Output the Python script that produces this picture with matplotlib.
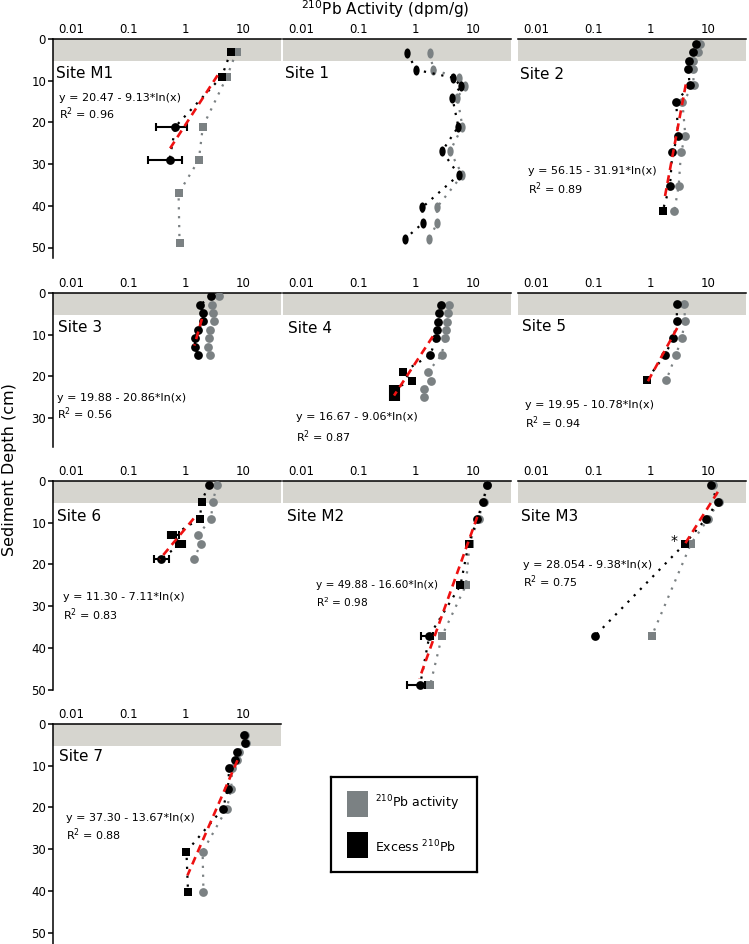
import numpy as np
import matplotlib
matplotlib.use("Agg")
import matplotlib.pyplot as plt
from matplotlib.path import Path
from matplotlib.transforms import Affine2D, blended_transform_factory
from matplotlib.ticker import NullLocator

nan = np.nan

# === data (depth in cm, activity in dpm/g) ===
# Site M1
m1_depth = [3, 9, 21, 29, 37, 49]
m1_total = [7.8, 5.3, 2.0, 1.7, 0.75, 0.78]
m1_excess = [6.2, 4.3, 0.66, 0.52, nan, nan]
m1_err_lo = [nan, nan, 0.30, 0.22, nan, nan]
m1_err_hi = [nan, nan, 1.05, 0.85, nan, nan]
m1_fit = (20.47, 9.13, 8.7, 26.4)   # a, b, fitted depth range
m1_eq = ["y = 20.47 - 9.13*ln(x)", "R$^2$ = 0.96"]

# Site 1 (no fit)
s1_depth = [3.4, 7.4, 9.3, 11.3, 14.1, 21.0, 26.9, 32.6, 40.4, 44.1, 48.0]
s1_total = [1.77, 2.05, 5.8, 7.2, 5.4, 6.6, 4.0, 6.6, 2.35, 2.4, 1.7]
s1_excess = [0.71, 1.03, 4.55, 6.2, 4.4, 5.6, 2.9, 5.7, 1.3, 1.35, 0.64]

# Site 2
s2_depth = [1.2, 3.2, 5.3, 7.2, 11.1, 15.2, 23.2, 27.2, 35.2, 41.2]
s2_total = [7.4, 6.7, 5.6, 5.5, 5.7, 3.6, 4.06, 3.4, 3.1, 2.6]
s2_excess = [6.3, 5.6, 4.7, 4.6, 4.8, 2.8, 3.05, 2.4, 2.18, 1.62]
s2_fit = (56.15, 31.91, 10.9, 38.6)
s2_eq = ["y = 56.15 - 31.91*ln(x)", "R$^2$ = 0.89"]

# Site 3
s3_depth = [0.8, 2.8, 4.8, 6.8, 8.8, 10.8, 12.9, 14.9]
s3_total = [3.8, 2.84, 3.0, 3.08, 2.7, 2.55, 2.5, 2.72]
s3_excess = [2.8, 1.8, 2.0, 2.02, 1.65, 1.48, 1.44, 1.67]
s3_fit = (19.88, 20.86, 6.2, 12.6)
s3_eq = ["y = 19.88 - 20.86*ln(x)", "R$^2$ = 0.56"]

# Site 4
s4_depth = [2.9, 4.9, 6.9, 8.9, 10.8, 14.9, 19.0, 21.0, 23.0, 25.0]
s4_total = [3.9, 3.67, 3.52, 3.38, 3.3, 2.84, 1.63, 1.89, 1.42, 1.42]
s4_excess = [2.8, 2.55, 2.47, 2.38, 2.28, 1.8, 0.59, 0.87, 0.41, 0.41]
s4_err_lo = [nan, nan, nan, nan, nan, nan, nan, nan, 0.35, 0.35]
s4_err_hi = [nan, nan, nan, nan, nan, nan, nan, nan, 0.51, 0.51]
s4_fit = (16.67, 9.06, 10.4, 24.6)
s4_eq = ["y = 16.67 - 9.06*ln(x)", "R$^2$ = 0.87"]

# Site 5
s5_depth = [2.7, 6.7, 10.8, 14.9, 20.8]
s5_total = [3.87, 4.0, 3.5, 2.76, 1.89]
s5_excess = [2.84, 2.9, 2.5, 1.77, 0.85]
s5_fit = (19.95, 10.78, 8.4, 21.6)
s5_eq = ["y = 19.95 - 10.78*ln(x)", "R$^2$ = 0.94"]

# Site 6
s6_depth = [1.0, 5.0, 9.0, 13.0, 15.0, 18.8]
s6_total = [3.57, 2.96, 2.8, 1.64, 1.83, 1.4]
s6_excess = [2.52, 1.9, 1.78, 0.6, 0.81, 0.37]
s6_err_lo = [nan, nan, nan, 0.49, 0.67, 0.28]
s6_err_hi = [nan, nan, nan, 0.77, 0.96, 0.50]
s6_fit = (11.30, 7.11, 9.0, 18.8)
s6_eq = ["y = 11.30 - 7.11*ln(x)", "R$^2$ = 0.83"]

# Site M2
m2_depth = [1.0, 5.0, 9.0, 15.0, 25.0, 37.1, 49.0]
m2_total = [17.9, 15.5, 12.7, 8.8, 7.6, 2.9, 1.79]
m2_excess = [17.7, 15.2, 12.1, 8.5, 6.1, 1.74, 1.19]
m2_err_lo = [nan, nan, nan, nan, nan, 1.24, 0.69]
m2_err_hi = [nan, nan, nan, nan, nan, 2.05, 1.46]
m2_fit = (49.88, 16.60, 8.6, 47.4)
m2_eq = ["y = 49.88 - 16.60*ln(x)", "R$^2$ = 0.98"]

# Site M3
m3_depth = [1.0, 5.0, 9.0, 15.0, 37.1]
m3_total = [12.3, 15.6, 10.3, 5.1, 1.05]
m3_excess = [11.3, 15.0, 9.4, 4.0, 0.106]
m3_fit = (28.054, 9.38, 2.6, 15.8)
m3_eq = ["y = 28.054 - 9.38*ln(x)", "R$^2$ = 0.75"]

# Site 7
s7_depth = [2.6, 4.6, 6.6, 8.6, 10.6, 15.6, 20.3, 30.6, 40.3]
s7_total = [11.0, 11.4, 8.5, 8.1, 6.5, 6.3, 5.25, 1.98, 2.05]
s7_excess = [10.4, 10.8, 7.85, 7.3, 5.8, 5.5, 4.5, 1.03, 1.1]
s7_fit = (37.30, 13.67, 8.7, 36.3)
s7_eq = ["y = 37.30 - 13.67*ln(x)", "R$^2$ = 0.88"]

x_ticks = [0.01, 0.1, 1, 10]
x_tick_labels = ["0.01", "0.1", "1", "10"]

# === styling / layout ===
GRAY = "#7b8183"
BAND = "#d6d5cf"
RED = "#ee1111"
ellipse = Path.unit_circle().transformed(Affine2D().scale(0.62, 1.0))
MK = {"o": "o", "s": "s", "e": ellipse}

panels = [
    dict(name="Site M1", col=0, row=0, d=m1_depth, t=m1_total, e=m1_excess,
         lo=m1_err_lo, hi=m1_err_hi, fit=m1_fit, eq=m1_eq,
         tmk="ssssss", emk="ssoo", lab=(0.013, 8.2), eqp=(0.027, 14.1, 18.0)),
    dict(name="Site 1", col=1, row=0, d=s1_depth, t=s1_total, e=s1_excess,
         tmk="e" * 11, emk="e" * 11, lab=(0.009, 8.2)),
    dict(name="Site 2", col=2, row=0, d=s2_depth, t=s2_total, e=s2_excess,
         fit=s2_fit, eq=s2_eq, tmk="o" * 10, emk="o" * 9 + "s",
         lab=(0.009, 8.6), eqp=(0.044, 31.7, 36.0)),
    dict(name="Site 3", col=0, row=1, d=s3_depth, t=s3_total, e=s3_excess,
         fit=s3_fit, eq=s3_eq, tmk="o" * 8, emk="o" * 8,
         lab=(0.022, 8.2), eqp=(0.018, 25.2, 29.0)),
    dict(name="Site 4", col=1, row=1, d=s4_depth, t=s4_total, e=s4_excess,
         lo=s4_err_lo, hi=s4_err_hi, fit=s4_fit, eq=s4_eq,
         tmk="o" * 10, emk="o" * 6 + "s" * 4,
         lab=(0.022, 8.4), eqp=(0.057, 29.7, 34.5)),
    dict(name="Site 5", col=2, row=1, d=s5_depth, t=s5_total, e=s5_excess,
         fit=s5_fit, eq=s5_eq, tmk="o" * 5, emk="oooos",
         lab=(0.018, 8.0), eqp=(0.031, 26.9, 31.0)),
    dict(name="Site 6", col=0, row=2, d=s6_depth, t=s6_total, e=s6_excess,
         lo=s6_err_lo, hi=s6_err_hi, fit=s6_fit, eq=s6_eq,
         tmk="o" * 6, emk="osssso", lab=(0.018, 8.6), eqp=(0.044, 27.8, 32.1)),
    dict(name="Site M2", col=1, row=2, d=m2_depth, t=m2_total, e=m2_excess,
         lo=m2_err_lo, hi=m2_err_hi, fit=m2_fit, eq=m2_eq,
         tmk="ooossss", emk="ooossoo", lab=(0.018, 8.6), eqp=(0.145, 24.9, 29.0),
         eqsize=7.6),
    dict(name="Site M3", col=2, row=2, d=m3_depth, t=m3_total, e=m3_excess,
         fit=m3_fit, eq=m3_eq, tmk="oooss", emk="oooso",
         lab=(0.013, 8.6), eqp=(0.022, 20.1, 24.2), star=3),
    dict(name="Site 7", col=0, row=3, d=s7_depth, t=s7_total, e=s7_excess,
         fit=s7_fit, eq=s7_eq, tmk="o" * 9, emk="o" * 7 + "ss",
         lab=(0.026, 7.9), eqp=(0.057, 22.5, 26.6)),
]

W, H = 749, 944
col_left = [53, 283, 518]
col_w = 228
row_top = [39, 293, 481, 724]
row_h = [219, 154, 209, 220]
px_per_cm = 4.17

plt.rcParams["font.family"] = ["DejaVu Sans"]
fig = plt.figure(figsize=(W / 100, H / 100), dpi=100)


def draw_series(ax, xs, ds, marks, color, ms, z):
    xs = np.asarray(xs, float)
    ds = np.asarray(ds, float)
    marks = marks.ljust(len(xs), "-")
    ok = ~np.isnan(xs)
    ax.plot(xs[ok], ds[ok], color=color, ls=(0, (1, 3)), lw=1.6, zorder=z)
    for key in set(marks) - {"-"}:
        sel = np.array([m == key for m in marks]) & ok
        size = {"o": ms, "s": ms - 0.4, "e": ms + 1}[key]
        ax.plot(xs[sel], ds[sel], ls="none", marker=MK[key], color=color,
                ms=size, mew=0, zorder=z + 1)


for p in panels:
    col, row = p["col"], p["row"]
    h = row_h[row]
    ax = fig.add_axes([col_left[col] / W, 1 - (row_top[row] + h) / H, col_w / W, h / H])
    ax.set_xscale("log")
    ax.set_xlim(0.0047, 47)
    ax.set_ylim(h / px_per_cm, 0)
    ax.axhspan(0, 5.3, color=BAND, lw=0, zorder=0)

    ax.xaxis.tick_top()
    ax.set_xticks(x_ticks)
    ax.set_xticklabels(x_tick_labels)
    ax.xaxis.set_minor_locator(NullLocator())
    ax.tick_params(axis="x", length=0, pad=2.5, labelsize=8.5)
    for s in ["right", "bottom"]:
        ax.spines[s].set_visible(False)
    ax.spines["top"].set_linewidth(1.1)
    if col == 0:
        ax.spines["left"].set_linewidth(1.1)
        ax.set_yticks([v for v in range(0, 60, 10) if v <= h / px_per_cm])
        ax.tick_params(axis="y", length=3.5, width=1.1, pad=1.5, labelsize=8.5)
    else:
        ax.spines["left"].set_visible(False)
        ax.set_yticks([])
    ax.patch.set_alpha(0)

    draw_series(ax, p["t"], p["d"], p["tmk"], GRAY, 6.3, 2)
    draw_series(ax, p["e"], p["d"], p["emk"], "black", 6.3, 4)

    if "lo" in p:
        lo = np.asarray(p["lo"], float)
        hi = np.asarray(p["hi"], float)
        ex = np.asarray(p["e"], float)
        dd = np.asarray(p["d"], float)
        sel = ~np.isnan(lo)
        ax.errorbar(ex[sel], dd[sel], xerr=[ex[sel] - lo[sel], hi[sel] - ex[sel]],
                    fmt="none", ecolor="black", elinewidth=1.5, capsize=3,
                    capthick=1.5, zorder=5)

    if "fit" in p:
        a, b, d0, d1 = p["fit"]
        fd = np.array([d0, d1])
        ax.plot(np.exp((a - fd) / b), fd, color=RED, lw=1.9, ls=(0, (3, 2)), zorder=6)

    tr = blended_transform_factory(ax.transAxes, ax.transData)
    ax.text(p["lab"][0], p["lab"][1], p["name"], transform=tr, fontsize=11,
            va="center", ha="left", zorder=7)
    if "eq" in p:
        ex_, y1, y2 = p["eqp"]
        fs = p.get("eqsize", 8)
        ax.text(ex_, y1, p["eq"][0], transform=tr, fontsize=fs, va="center", ha="left")
        ax.text(ex_, y2, p["eq"][1], transform=tr, fontsize=fs, va="center", ha="left")
    if "star" in p:
        i = p["star"]
        ax.annotate("*", xy=(p["e"][i], p["d"][i]), xytext=(-8, 2),
                    textcoords="offset points", fontsize=10, ha="center", va="center")

# axis titles
fig.text(385 / W, 1 - 9 / H, "$^{210}$Pb Activity (dpm/g)", fontsize=11,
         ha="center", va="center")
fig.text(10 / W, 1 - 470 / H, "Sediment Depth (cm)", fontsize=11.5, rotation=90,
         ha="center", va="center")

# legend box
lg = fig.add_axes([331 / W, 1 - 872 / H, 146 / W, 95 / H])
lg.set_xticks([])
lg.set_yticks([])
for s in lg.spines.values():
    s.set_linewidth(1.6)
lg.set_xlim(0, 1)
lg.set_ylim(0, 1)
lg.add_patch(plt.Rectangle((0.11, 0.579), 0.143, 0.274, color=GRAY, lw=0))
lg.add_patch(plt.Rectangle((0.11, 0.147), 0.143, 0.274, color="black", lw=0))
lg.text(0.30, 0.726, "$^{210}$Pb activity", fontsize=9, va="center")
lg.text(0.30, 0.263, "Excess $^{210}$Pb", fontsize=9, va="center")

fig.savefig("out.png", dpi=100)
